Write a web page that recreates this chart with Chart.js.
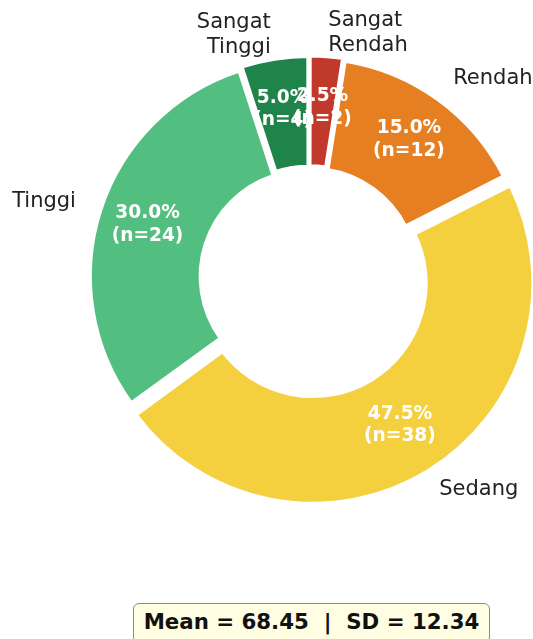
<!DOCTYPE html>
<html>
<head>
<meta charset="utf-8">
<script src="https://cdn.jsdelivr.net/npm/chart.js@4.4.1/dist/chart.umd.min.js"></script>
<style>
  html, body { margin: 0; padding: 0; background: #ffffff; overflow: hidden; }
  body { width: 533px; height: 639px; position: relative; }
  #c { position: absolute; left: 0; top: 0; }
  #stats {
    position: absolute; left: 133px; top: 603px; width: 357px; height: 40px;
    box-sizing: border-box;
    border: 1.5px solid #8c8c8c; border-radius: 6px;
    background: #fffde2;
    font-family: "DejaVu Sans", sans-serif; font-weight: bold; font-size: 21.3px;
    color: #111; text-align: center; line-height: 36px; white-space: pre;
  }
</style>
</head>
<body>
<canvas id="c" width="533" height="639"></canvas>
<div id="stats"></div>
<script>
// ---- data ----
const categories = ['Sangat Rendah', 'Rendah', 'Sedang', 'Tinggi', 'Sangat Tinggi'];
const displayLabels = ['Sangat\nRendah', 'Rendah', 'Sedang', 'Tinggi', 'Sangat\nTinggi'];
const counts = [2, 12, 38, 24, 4];
const colors = ['#c0392b', '#e67e22', '#f4d03f', '#52be80', '#1e8449'];
const statMean = 68.45;
const statSD = 12.34;

// ---- styling ----
const offsets = [12, 12, 28, 12, 12];      // Chart.js translates arcs by offset/4
const borderWidths = [4, 4, 7, 4, 4];
const PCT_DIST = 0.772;
const LABEL_DIST = 1.12;

const total = counts.reduce((a, b) => a + b, 0);

document.getElementById('stats').textContent =
  'Mean = ' + statMean.toFixed(2) + '  |  SD = ' + statSD.toFixed(2);

const labelPlugin = {
  id: 'pieLabels',
  afterDatasetsDraw(chart) {
    const ctx = chart.ctx;
    const meta = chart.getDatasetMeta(0);
    ctx.save();
    meta.data.forEach((arc, i) => {
      const p = arc.getProps(['x', 'y', 'startAngle', 'endAngle', 'outerRadius'], true);
      const mid = (p.startAngle + p.endAngle) / 2;
      const t = (arc.options.offset || 0) / 4;
      const c = Math.cos(mid), s = Math.sin(mid);
      // percentage text
      const pr = PCT_DIST * p.outerRadius + t;
      const px = p.x + c * pr, py = p.y + s * pr;
      const pct = (counts[i] / total * 100).toFixed(1) + '%';
      const lines = [pct, '(n=' + counts[i] + ')'];
      ctx.font = 'bold 18.6px "DejaVu Sans"';
      ctx.fillStyle = '#ffffff';
      ctx.textAlign = 'center';
      ctx.textBaseline = 'middle';
      const lh = 22.3;
      lines.forEach((ln, k) => {
        ctx.fillText(ln, px, py + (k - (lines.length - 1) / 2) * lh);
      });
      // category label
      const lr = LABEL_DIST * p.outerRadius + t;
      const lx = p.x + c * lr, ly = p.y + s * lr;
      const llines = displayLabels[i].split('\n');
      ctx.font = '21px "DejaVu Sans"';
      ctx.fillStyle = '#222222';
      ctx.textAlign = c < 0 ? 'right' : 'left';
      const llh = 25;
      llines.forEach((ln, k) => {
        ctx.fillText(ln, lx, ly + (k - (llines.length - 1) / 2) * llh);
      });
    });
    ctx.restore();
  }
};

new Chart(document.getElementById('c'), {
  type: 'doughnut',
  data: {
    labels: categories,
    datasets: [{
      data: counts,
      backgroundColor: colors,
      borderColor: '#ffffff',
      borderWidth: borderWidths,
      borderAlign: 'center',
      offset: offsets,
      hoverOffset: 0
    }]
  },
  options: {
    responsive: false,
    animation: false,
    events: [],
    devicePixelRatio: 1,
    radius: 216.2,
    cutout: '48.8%',
    rotation: 0,
    layout: { padding: { left: 85.2, right: 0, top: 0, bottom: 84.6 } },
    plugins: {
      legend: { display: false },
      tooltip: { enabled: false },
      title: { display: false }
    }
  },
  plugins: [labelPlugin]
});
</script>
</body>
</html>
